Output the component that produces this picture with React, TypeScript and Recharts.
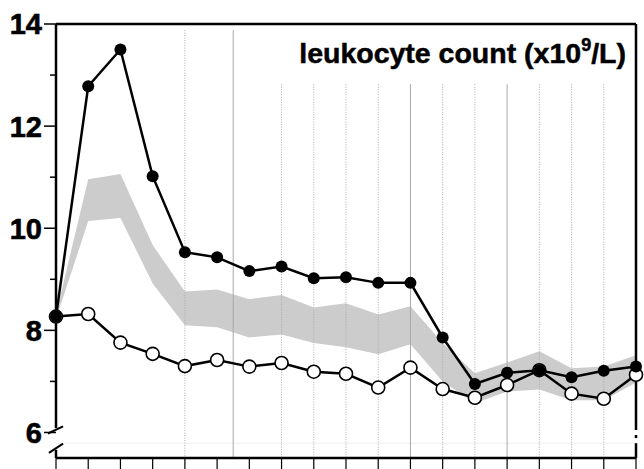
import React from "react";
import {
  Area,
  ComposedChart,
  Line,
  ReferenceLine,
  XAxis,
  YAxis,
} from "recharts";

// time points along the x axis (no labels in the original)
const timePoints = [0, 1, 2, 3, 4, 5, 6, 7, 8, 9, 10, 11, 12, 13, 14, 15, 16, 17, 18];

// filled-circle series
const filledSeries = [
  8.27, 12.78, 13.5, 11.02, 9.53, 9.43, 9.16, 9.25, 9.02, 9.04, 8.93, 8.93,
  7.86, 6.95, 7.17, 7.22, 7.08, 7.21, 7.29,
];

// open-circle series
const openSeries = [
  8.27, 8.32, 7.76, 7.54, 7.3, 7.42, 7.29, 7.36, 7.19, 7.15, 6.88, 7.27,
  6.85, 6.68, 6.93, 7.22, 6.76, 6.66, 7.13,
];

// grey reference band
const bandLow = [
  8.22, 10.14, 10.2, 8.92, 8.1, 8.06, 7.86, 7.92, 7.75, 7.67, 7.53, 7.73,
  7.0, 6.57, 6.8, 6.84, 6.63, 6.63, 6.98,
];
const bandHigh = [
  8.32, 10.96, 11.06, 9.67, 8.76, 8.8, 8.61, 8.69, 8.45, 8.53, 8.31, 8.47,
  7.75, 7.16, 7.37, 7.59, 7.26, 7.29, 7.51,
];

const yTicks = [6, 7, 8, 9, 10, 11, 12, 13, 14];

// vertical guide lines
const solidFull = [5.5];
const dottedFull = [4];
const solidShort = [11, 14];
const dottedShort = [7, 8, 9, 10, 12, 13, 15, 16, 17];

const data = timePoints.map((t, i) => ({
  t,
  filled: filledSeries[i],
  open: openSeries[i],
  band: [bandLow[i], bandHigh[i]],
}));

const FONT = "'Liberation Sans', Arial, Helvetica, sans-serif";

const YTick = (props: any) => {
  const { x, y, payload } = props;
  const major = payload.value % 2 === 0;
  return (
    <g>
      <line x1={x - (major ? 12 : 6)} x2={x} y1={y} y2={y} stroke="#000" strokeWidth={1.5} />
      {major && (
        <text
          x={x - 14}
          y={y}
          dy="0.36em"
          textAnchor="end"
          fontFamily={FONT}
          fontWeight="bold"
          fontSize={29}
          stroke="#000"
          strokeWidth={0.6}
          fill="#000"
        >
          {payload.value}
        </text>
      )}
    </g>
  );
};

const FilledDot = (props: any) => {
  const { cx, cy } = props;
  if (cx == null || cy == null) return null;
  return <circle cx={cx} cy={cy} r={6} fill="#000" />;
};

const OpenDot = (props: any) => {
  const { cx, cy } = props;
  if (cx == null || cy == null) return null;
  return <circle cx={cx} cy={cy} r={6.5} fill="#fff" stroke="#000" strokeWidth={1.6} />;
};

export default function App() {
  return (
    <div style={{ position: "absolute", left: 0, top: 0, width: 644, height: 469, background: "#fff" }}>
      <ComposedChart
        width={644}
        height={469}
        data={data}
        margin={{ top: 24, right: 8, left: 0, bottom: 0 }}
      >
        <XAxis
          dataKey="t"
          type="number"
          domain={[0, 18]}
          ticks={timePoints}
          tickFormatter={() => ""}
          tickSize={11}
          height={11}
          axisLine={{ stroke: "#000", strokeWidth: 2.5 }}
          tickLine={{ stroke: "#000", strokeWidth: 1.2 }}
        />
        <YAxis
          type="number"
          domain={[5.5, 14]}
          ticks={yTicks}
          width={56}
          allowDataOverflow
          axisLine={false}
          tickLine={false}
          tickSize={0}
          tickMargin={0}
          tick={<YTick />}
        />

        {/* faint horizontal line in the axis break */}
        <ReferenceLine y={5.79} stroke="#eeeeee" strokeWidth={1} ifOverflow="visible" />

        {dottedFull.map((v) => (
          <ReferenceLine
            key={"df" + v}
            segment={[{ x: v, y: 13.88 }, { x: v, y: 5.5 }]}
            stroke="#aaaaaa"
            strokeDasharray="1 1.5"
          />
        ))}
        {solidFull.map((v) => (
          <ReferenceLine
            key={"sf" + v}
            segment={[{ x: v, y: 13.88 }, { x: v, y: 5.5 }]}
            stroke="#a8a8a8"
          />
        ))}
        {dottedShort.map((v) => (
          <ReferenceLine
            key={"ds" + v}
            segment={[{ x: v, y: 12.82 }, { x: v, y: 5.5 }]}
            stroke="#aaaaaa"
            strokeDasharray="1 1.5"
          />
        ))}
        {solidShort.map((v) => (
          <ReferenceLine
            key={"ss" + v}
            segment={[{ x: v, y: 12.82 }, { x: v, y: 5.5 }]}
            stroke="#a8a8a8"
          />
        ))}

        <Area
          dataKey="band"
          type="linear"
          stroke="none"
          fill="#cccccc"
          fillOpacity={1}
          isAnimationActive={false}
        />
        <Line
          dataKey="open"
          type="linear"
          stroke="#000"
          strokeWidth={2.5}
          dot={<OpenDot />}
          activeDot={false}
          isAnimationActive={false}
        />
        <Line
          dataKey="filled"
          type="linear"
          stroke="#000"
          strokeWidth={2.5}
          dot={<FilledDot />}
          activeDot={false}
          isAnimationActive={false}
        />

        {/* frame: top and right border, left axis with break */}
        <ReferenceLine segment={[{ x: 0, y: 14 }, { x: 18, y: 14 }]} stroke="#000" strokeWidth={2.5} ifOverflow="visible" />
        <ReferenceLine segment={[{ x: 0, y: 14 }, { x: 0, y: 6.09 }]} stroke="#000" strokeWidth={2.5} ifOverflow="visible" />
        <ReferenceLine segment={[{ x: 0, y: 5.66 }, { x: 0, y: 5.5 }]} stroke="#000" strokeWidth={2.5} ifOverflow="visible" />
        <ReferenceLine segment={[{ x: -0.25, y: 5.98 }, { x: 0.22, y: 6.12 }]} stroke="#000" strokeWidth={2} ifOverflow="visible" />
        <ReferenceLine segment={[{ x: -0.22, y: 5.6 }, { x: 0.22, y: 5.78 }]} stroke="#000" strokeWidth={2} ifOverflow="visible" />
        <ReferenceLine segment={[{ x: 18, y: 14 }, { x: 18, y: 6.05 }]} stroke="#000" strokeWidth={2.5} ifOverflow="visible" />
        <ReferenceLine segment={[{ x: 18, y: 5.95 }, { x: 18, y: 5.89 }]} stroke="#000" strokeWidth={2.5} ifOverflow="visible" />
        <ReferenceLine segment={[{ x: 18, y: 5.79 }, { x: 18, y: 5.5 }]} stroke="#000" strokeWidth={2.5} ifOverflow="visible" />
      </ComposedChart>
      <svg
        width={644}
        height={469}
        style={{ position: "absolute", left: 0, top: 0, pointerEvents: "none" }}
      >
        <text
          x={626}
          y={63}
          textAnchor="end"
          fontFamily={FONT}
          fontWeight="bold"
          fontSize={28.5}
          stroke="#000"
          strokeWidth={0.5}
          fill="#000"
        >
          leukocyte count (x10
          <tspan fontSize={18} dy={-12}>9</tspan>
          <tspan dy={12}>/L)</tspan>
        </text>
      </svg>
    </div>
  );
}
